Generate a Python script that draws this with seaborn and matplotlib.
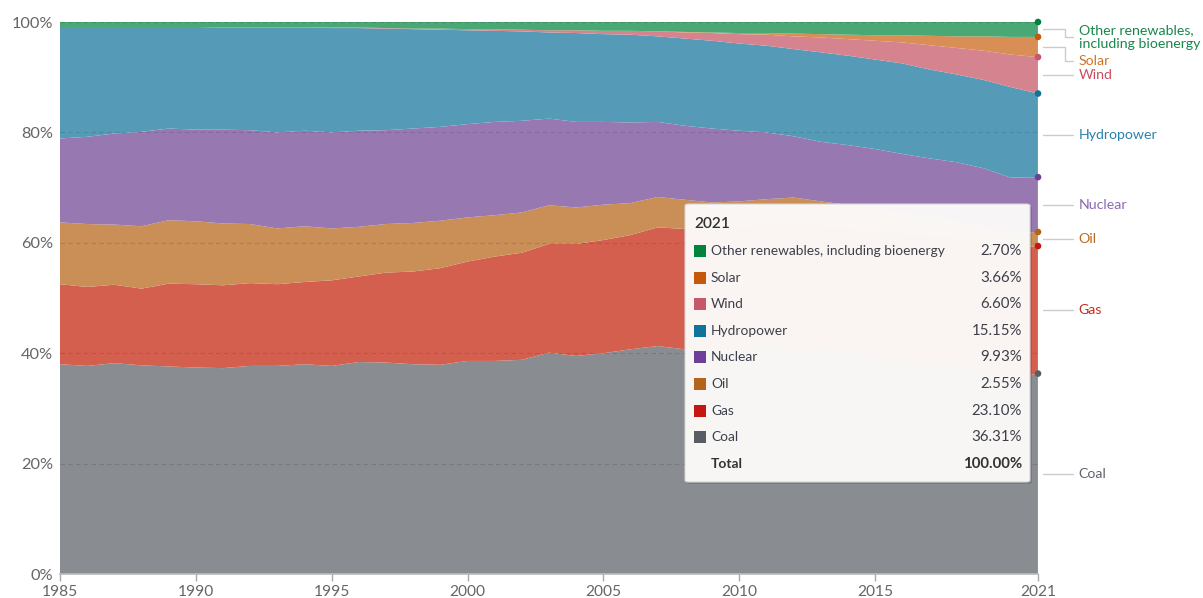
import numpy as np
import pandas as pd
import matplotlib
matplotlib.use("Agg")
import matplotlib.pyplot as plt
import seaborn as sns
from matplotlib.patches import FancyBboxPatch, Rectangle

years = list(range(1985, 2022))

coal = [38.0, 37.7, 38.2, 37.8, 37.6, 37.4, 37.3, 37.7, 37.7, 38.0,
        37.7, 38.4, 38.3, 38.0, 37.9, 38.6, 38.6, 38.8, 40.1, 39.5,
        40.0, 40.7, 41.3, 40.7, 40.3, 40.4, 41.3, 40.6, 41.0, 40.5,
        39.2, 38.2, 38.2, 38.1, 36.7, 35.4, 36.31]
gas = [14.5, 14.3, 14.2, 13.9, 15.0, 15.1, 15.0, 15.0, 14.8, 14.9,
       15.5, 15.5, 16.3, 16.8, 17.5, 18.0, 18.9, 19.4, 19.7, 20.3,
       20.5, 20.7, 21.5, 21.8, 22.1, 22.5, 22.1, 23.0, 22.2, 22.2,
       22.9, 23.5, 23.1, 22.9, 23.2, 23.6, 23.10]
oil = [11.2, 11.4, 10.9, 11.3, 11.5, 11.4, 11.2, 10.7, 10.1, 10.1,
       9.4, 9.0, 8.8, 8.8, 8.6, 8.0, 7.5, 7.3, 7.0, 6.6,
       6.4, 5.8, 5.5, 5.3, 4.9, 4.6, 4.5, 4.6, 4.3, 4.2,
       3.9, 3.6, 3.3, 3.0, 2.8, 2.7, 2.55]
nuclear = [15.2, 15.8, 16.5, 17.1, 16.6, 16.6, 17.0, 17.0, 17.4, 17.3,
           17.4, 17.4, 17.0, 17.1, 17.0, 16.9, 16.9, 16.6, 15.7, 15.5,
           15.0, 14.6, 13.6, 13.4, 13.4, 12.8, 12.1, 11.1, 10.8, 10.8,
           11.0, 10.8, 10.7, 10.6, 10.8, 10.1, 9.93]
hydro = [20.2, 19.9, 19.3, 19.0, 18.4, 18.6, 18.5, 18.6, 19.0, 18.7,
         18.9, 18.6, 18.4, 18.0, 17.6, 17.0, 16.5, 16.2, 15.6, 16.1,
         15.9, 15.9, 15.5, 15.8, 15.9, 15.8, 15.7, 15.8, 16.2, 16.2,
         16.2, 16.4, 16.1, 15.9, 16.0, 16.4, 15.15]
wind = [0.0, 0.0, 0.0, 0.0, 0.0, 0.0, 0.0, 0.0, 0.0, 0.0,
        0.1, 0.1, 0.1, 0.1, 0.2, 0.2, 0.3, 0.3, 0.4, 0.5,
        0.6, 0.7, 0.9, 1.1, 1.4, 1.7, 2.0, 2.3, 2.7, 3.0,
        3.4, 3.8, 4.4, 4.8, 5.3, 5.9, 6.60]
solar = [0.0, 0.0, 0.0, 0.0, 0.0, 0.0, 0.0, 0.0, 0.0, 0.0,
         0.0, 0.0, 0.0, 0.0, 0.0, 0.0, 0.0, 0.0, 0.0, 0.0,
         0.0, 0.0, 0.0, 0.1, 0.1, 0.2, 0.3, 0.5, 0.6, 0.8,
         1.0, 1.3, 1.7, 2.1, 2.6, 3.2, 3.66]
other = [0.9, 0.9, 0.9, 0.9, 0.9, 0.9, 1.0, 1.0, 1.0, 1.0,
         1.0, 1.0, 1.1, 1.2, 1.2, 1.3, 1.3, 1.4, 1.5, 1.5,
         1.6, 1.6, 1.7, 1.8, 1.9, 2.0, 2.0, 2.1, 2.2, 2.3,
         2.4, 2.4, 2.5, 2.6, 2.6, 2.7, 2.70]

sources = ["Coal", "Gas", "Oil", "Nuclear", "Hydropower", "Wind", "Solar",
           "Other renewables, including bioenergy"]
right_labels = ["Coal", "Gas", "Oil", "Nuclear", "Hydropower", "Wind", "Solar",
                "Other renewables,\nincluding bioenergy"]

area_colors = ["#898c91", "#d45f4f", "#c98f57", "#9878b0", "#559bb8",
               "#d5838f", "#d88e55", "#4aa874"]
text_colors = ["#5f636b", "#c52a1c", "#b8691e", "#8a6cae", "#2a81ac",
               "#cc4b60", "#cf7526", "#19874a"]
swatch_colors = ["#585c63", "#c3170f", "#b4631a", "#6e3f9a", "#10739a",
                 "#c9566a", "#c4590b", "#00843d"]

df = pd.DataFrame({"year": years, "Coal": coal, "Gas": gas, "Oil": oil,
                   "Nuclear": nuclear, "Hydropower": hydro, "Wind": wind,
                   "Solar": solar,
                   "Other renewables, including bioenergy": other})

sns.set_theme(style="white")
plt.rcParams["font.family"] = ["Lato", "DejaVu Sans"]

W, H = 1203, 598
fig = plt.figure(figsize=(W / 100, H / 100), dpi=100)
ax = fig.add_axes([60 / W, 24 / H, 978 / W, 552 / H])

ax.stackplot(df["year"], [df[s] for s in sources], colors=area_colors,
             linewidth=0.4, edgecolor="none")

ax.set_xlim(1985, 2021)
ax.set_ylim(0, 100)
ax.set_yticks([0, 20, 40, 60, 80, 100])
ax.set_yticklabels(["0%", "20%", "40%", "60%", "80%", "100%"])
ax.set_xticks([1985, 1990, 1995, 2000, 2005, 2010, 2015, 2021])
ax.tick_params(axis="y", length=0, pad=5, labelsize=11.8, labelcolor="#666666")
ax.tick_params(axis="x", length=5, width=1, color="#aaaaaa", pad=3,
               labelsize=11.2, labelcolor="#666666", bottom=True)
for side in ["top", "right", "left"]:
    ax.spines[side].set_visible(False)
ax.spines["bottom"].set_color("#bbbbbb")
ax.set_axisbelow(False)
ax.grid(axis="y", color="#000000", alpha=0.12, linestyle=(0, (4, 3)), linewidth=0.8)
ax.grid(axis="x", visible=False)

# end dots and right-hand labels
tops = np.cumsum([df[s].iloc[-1] for s in sources])
bottoms = np.concatenate([[0], tops[:-1]])
ax.scatter([2021] * len(sources), tops, s=14, color=swatch_colors,
           zorder=5, clip_on=False)
ax.axvline(2021, color="#bbbbbb", linewidth=1, zorder=4)

offsets = {"Solar": -2.6, "Other renewables, including bioenergy": -1.4}
for s, lab, col, lo, hi in zip(sources, right_labels, text_colors, bottoms, tops):
    mid = (lo + hi) / 2
    ly = mid + offsets.get(s, 0)
    ax.plot([2021.18, 2021.98, 2021.98, 2022.27], [mid, mid, ly, ly],
            color="#cccccc", linewidth=1, clip_on=False)
    ax.text(2022.5, ly, lab, color=col, fontsize=10.2, va="center", ha="left",
            linespacing=1.12, clip_on=False)

# tooltip box for the last year
def fx(px):
    return px / W


def fy(py):
    return 1 - py / H


shadow = FancyBboxPatch((fx(687), fy(484)), 345 / W, 278 / H,
                        boxstyle="round,pad=0,rounding_size=0.003",
                        transform=fig.transFigure, facecolor="#000000",
                        alpha=0.12, edgecolor="none", zorder=9)
box = FancyBboxPatch((fx(685), fy(482)), 345 / W, 278 / H,
                     boxstyle="round,pad=0,rounding_size=0.003",
                     transform=fig.transFigure, facecolor="#fdfbfa",
                     alpha=0.97, edgecolor="#d6d6d6", linewidth=0.8, zorder=10)
fig.patches.extend([shadow, box])

fig.text(fx(694), fy(224), str(years[-1]), fontsize=11.2, color="#333333",
         va="center", ha="left", zorder=11, fontweight="semibold")
row_y = 251
for s, col in zip(sources[::-1], swatch_colors[::-1]):
    val = df[s].iloc[-1]
    fig.patches.append(Rectangle((fx(694), fy(row_y + 6)), 12 / W, 12 / H,
                                 transform=fig.transFigure, facecolor=col,
                                 edgecolor="none", zorder=11))
    fig.text(fx(711), fy(row_y), s, fontsize=9.9, color="#3d3f4a",
             va="center", ha="left", zorder=11)
    fig.text(fx(1022), fy(row_y), f"{val:.2f}%", fontsize=10.8, color="#3d3f4a",
             va="center", ha="right", zorder=11)
    row_y += 26.6
total = sum(df[s].iloc[-1] for s in sources)
fig.text(fx(711), fy(464), "Total", fontsize=9.9, color="#333333",
         fontweight="bold", va="center", ha="left", zorder=11)
fig.text(fx(1022), fy(464), f"{total:.2f}%", fontsize=10.8, color="#333333",
         fontweight="bold", va="center", ha="right", zorder=11)

fig.savefig("out.png", dpi=100)
